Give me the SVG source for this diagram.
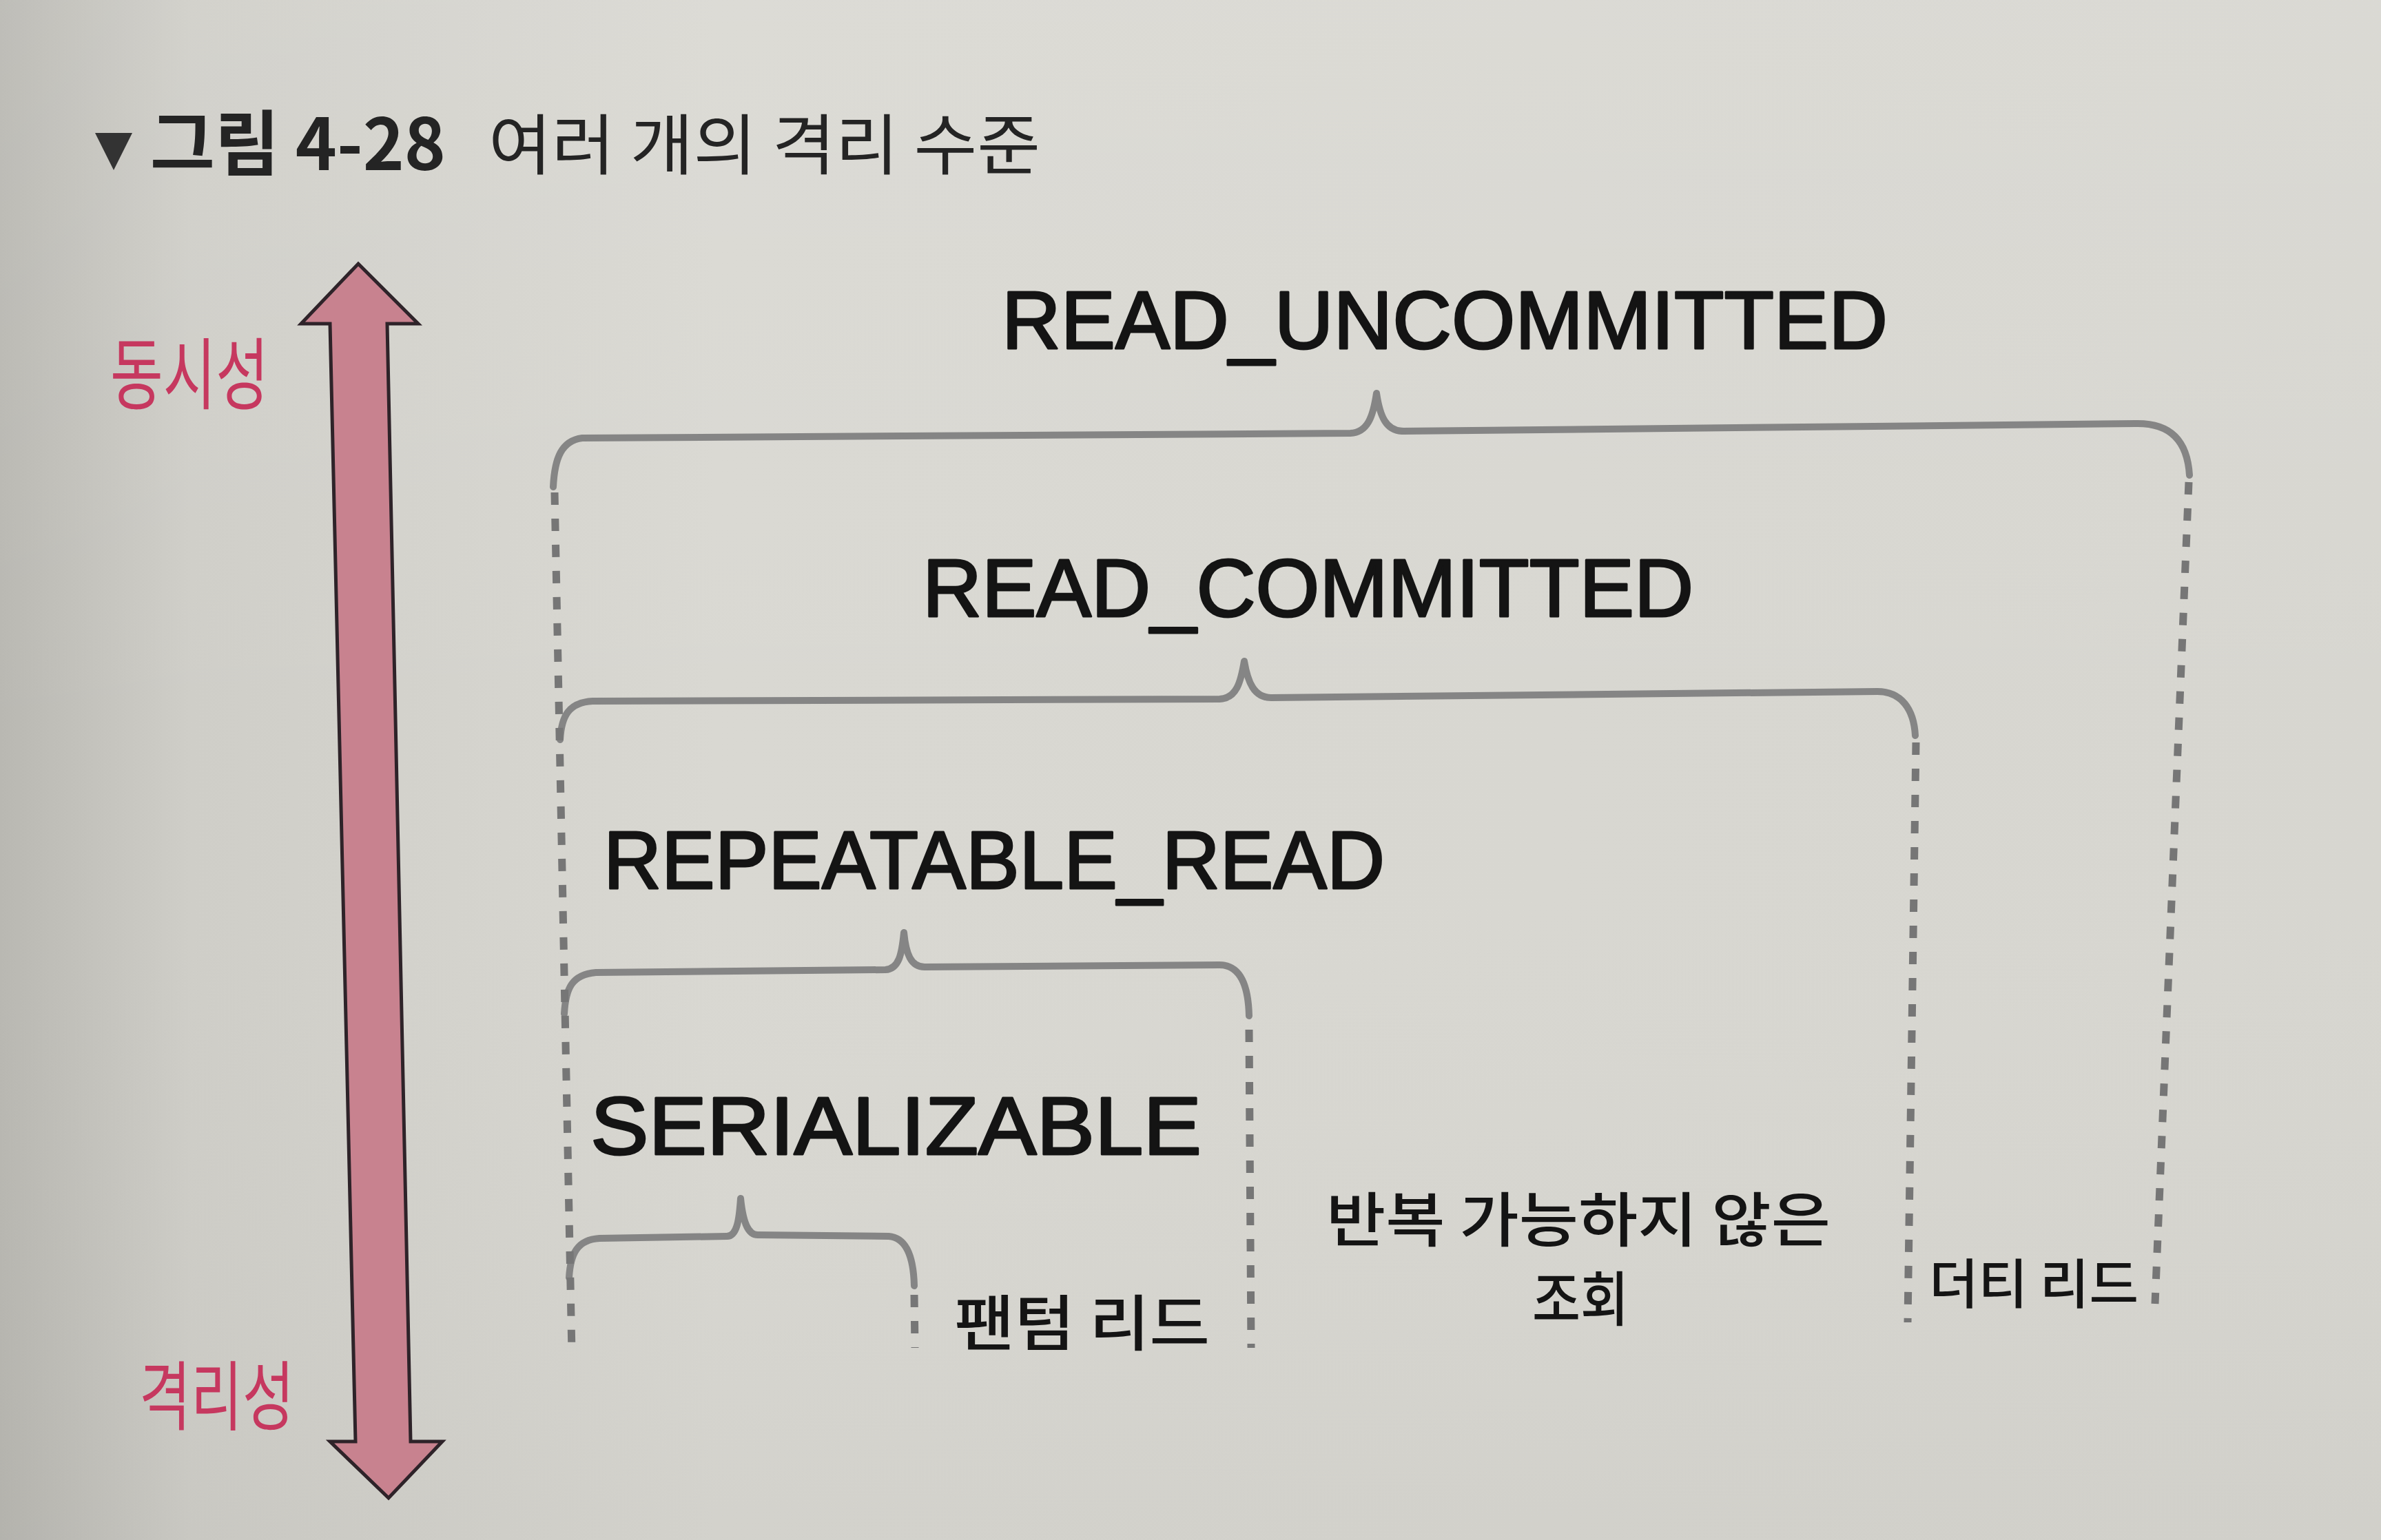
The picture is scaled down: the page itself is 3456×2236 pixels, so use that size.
<svg xmlns="http://www.w3.org/2000/svg" width="3456" height="2236" viewBox="0 0 3456 2236">
<defs>
<linearGradient id="paper" x1="0" y1="0" x2="1" y2="0">
<stop offset="0" stop-color="#b9b8b2"/>
<stop offset="0.08" stop-color="#cfcec8"/>
<stop offset="0.3" stop-color="#d9d8d2"/>
<stop offset="1" stop-color="#d7d6d0"/>
</linearGradient>
<linearGradient id="paperv" x1="0" y1="0" x2="0" y2="1">
<stop offset="0" stop-color="#ffffff" stop-opacity="0.08"/>
<stop offset="0.5" stop-color="#ffffff" stop-opacity="0"/>
<stop offset="1" stop-color="#000000" stop-opacity="0.03"/>
</linearGradient>
</defs>
<style>
.brace{fill:none;stroke:#858585;stroke-width:10;stroke-linecap:round;stroke-linejoin:round}
.dash{fill:none;stroke:#767676;stroke-width:11;stroke-dasharray:18 20}
.lat{font-family:"Liberation Sans",Arial,sans-serif;fill:#141414;stroke:#141414;stroke-width:3;stroke-linejoin:round}
.kor{font-family:"Noto Sans CJK KR","Noto Sans",sans-serif;fill:#141414;font-weight:500}
.pink{font-family:"Noto Sans CJK KR","Noto Sans",sans-serif;fill:#c6385f}
.title{font-family:"Noto Sans CJK KR","Noto Sans",sans-serif;fill:#242424}
</style>
<rect x="0" y="0" width="3456" height="2236" fill="url(#paper)"/>
<rect x="0" y="0" width="3456" height="2236" fill="url(#paperv)"/>

<g id="title">
<polygon points="138,193 192,193 165,247" fill="#333333"/>
<text class="title" x="218" y="247" font-size="104" font-weight="700" textLength="429" lengthAdjust="spacingAndGlyphs" fill="#303030">그림 4-28</text>
<text class="title" x="709" y="245" font-size="96" textLength="801" lengthAdjust="spacingAndGlyphs">여러 개의 격리 수준</text>
</g>

<g id="axis">
<polygon points="520,383 607,470 562,470 596,2093 642,2093 564,2175 479,2093 516,2093 479,470 437,470" fill="#c8828f" stroke="#2e2329" stroke-width="5" stroke-linejoin="miter"/>
<text class="pink" x="160" y="585" font-size="114" textLength="230" lengthAdjust="spacingAndGlyphs">동시성</text>
<text class="pink" x="202" y="2068" font-size="110" textLength="225" lengthAdjust="spacingAndGlyphs">격리성</text>
</g>

<g id="connectors">
<path class="brace" d="M 803 707 C 805 665, 815 640, 845 636 L 1960 629 C 1985 628, 1993 605, 1998 571 C 2003 605, 2012 626, 2037 626 L 3100 615 C 3150 614, 3175 640, 3178 690"/>
<path class="brace" d="M 813 1074 C 815 1040, 825 1020, 860 1018 L 1770 1015 C 1795 1014, 1801 990, 1806 960 C 1811 990, 1820 1013, 1845 1013 L 2725 1004 C 2760 1004, 2778 1030, 2780 1068"/>
<path class="brace" d="M 819 1472 C 821 1435, 830 1415, 865 1412 L 1285 1408 C 1305 1407, 1309 1385, 1312 1354 C 1315 1385, 1322 1404, 1342 1404 L 1770 1401 C 1800 1401, 1812 1430, 1813 1475"/>
<path class="brace" d="M 826 1855 C 828 1820, 838 1800, 870 1798 L 1055 1795 C 1070 1795, 1073 1770, 1075 1740 C 1078 1770, 1084 1793, 1100 1793 L 1290 1795 C 1315 1797, 1326 1825, 1327 1867"/>
<line class="dash" x1="805" y1="715" x2="830" y2="1965"/>
<line class="dash" x1="3177" y1="700" x2="3128" y2="1893"/>
<line class="dash" x1="2781" y1="1078" x2="2769" y2="1920"/>
<line class="dash" x1="1813" y1="1495" x2="1816" y2="1957"/>
<line class="dash" x1="1327" y1="1880" x2="1328" y2="1957"/>
</g>

<g id="read-uncommitted">
<text class="lat" x="1454" y="506" font-size="119" textLength="1286" lengthAdjust="spacingAndGlyphs">READ_UNCOMMITTED</text>
<text class="kor" x="2800" y="1893" font-size="78" textLength="304" lengthAdjust="spacingAndGlyphs">더티 리드</text>
</g>

<g id="read-committed">
<text class="lat" x="1339" y="895" font-size="119" textLength="1119" lengthAdjust="spacingAndGlyphs">READ_COMMITTED</text>
<text class="kor" x="1925" y="1803" font-size="86" textLength="732" lengthAdjust="spacingAndGlyphs">반복 가능하지 않은</text>
<text class="kor" x="2224" y="1918" font-size="86" textLength="140" lengthAdjust="spacingAndGlyphs">조회</text>
</g>

<g id="repeatable-read">
<text class="lat" x="876" y="1290" font-size="119" textLength="1134" lengthAdjust="spacingAndGlyphs">REPEATABLE_READ</text>
<text class="kor" x="1385" y="1953" font-size="88" textLength="371" lengthAdjust="spacingAndGlyphs">팬텀 리드</text>
</g>

<g id="serializable">
<text class="lat" x="857" y="1676" font-size="119" textLength="887" lengthAdjust="spacingAndGlyphs">SERIALIZABLE</text>
</g>
</svg>
